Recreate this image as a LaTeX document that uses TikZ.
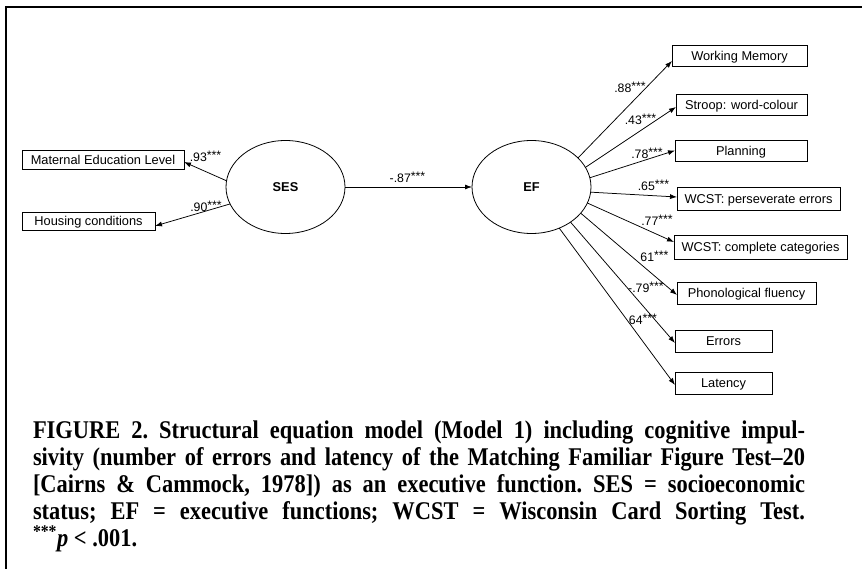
\documentclass[tikz,border=0pt]{standalone}
\usepackage{fontspec}
\setmainfont{Liberation Sans}
\newfontfamily\capfont[FakeStretch=0.88]{Liberation Serif}
\usetikzlibrary{shapes.geometric,arrows.meta}
\begin{document}
\begin{tikzpicture}[x=1pt,y=-1pt,
  every node/.style={inner sep=0pt, outer sep=0pt},
  obs/.style={draw, line width=0.8pt, rectangle, minimum height=21pt,
    text height=9.2pt, text depth=0pt,
    font=\fontsize{12.8}{15}\selectfont},
  latent/.style={draw, line width=0.8pt, ellipse, minimum width=119pt,
    minimum height=93pt, text height=9.2pt, text depth=0pt,
    font=\bfseries\fontsize{12.8}{15}\selectfont},
  coef/.style={font=\fontsize{12.3}{14}\selectfont},
  arr/.style={-{Latex[length=7pt,width=5pt]}, line width=0.75pt},
  caption/.style={anchor=north west, text width=772pt, align=justify,
    font=\capfont\bfseries\fontsize{25.5}{27}\selectfont}
]
\newcommand\sig{\raisebox{2pt}{***}}
\useasboundingbox (0,0) rectangle (862,569);

% frame
\draw[line width=2.6pt] (6,569) -- (6,7) -- (862,7);

% latent variables
\node[latent] (ses) at (285.5,187) {SES};
\node[latent] (ef) at (531.5,187) {EF};

% SES indicators
\node[obs, minimum width=162pt, minimum height=19pt] (mat) at (103,159.5) {Maternal Education Level};
\node[obs, minimum width=133pt, minimum height=18pt] (hou) at (88.5,221) {Housing conditions};

% EF indicators
\node[obs, minimum width=135pt] (wm) at (739.5,55.5) {Working Memory};
\node[obs, minimum width=131pt] (stroop) at (741.5,104.5) {Stroop: word-colour};
\node[obs, minimum width=132pt] (plan) at (741,150.5) {Planning};
\node[obs, minimum width=163pt, minimum height=23pt] (pers) at (758.5,198.5) {WCST: perseverate errors};
\node[obs, minimum width=173pt, minimum height=24pt] (comp) at (760.5,247) {WCST: complete categories};
\node[obs, minimum width=139pt, minimum height=22pt] (phon) at (746.5,293) {Phonological fluency};
\node[obs, minimum width=97pt, minimum height=22pt] (err) at (723.5,341) {Errors};
\node[obs, minimum width=97pt, minimum height=22pt] (lat) at (723.5,383) {Latency};

% paths
\draw[arr] (ses.174) -- ([yshift=-2.5pt]mat.east);
\draw[arr] (ses.197) -- ([yshift=-5pt]hou.east);
\draw[arr] (ses) -- (ef);
\draw[arr] (ef.32) -- ([yshift=-5.5pt]wm.west);
\draw[arr] (ef.20) -- ([yshift=-2.5pt]stroop.west);
\draw[arr] (ef.9.5) -- (plan.west);
\draw[arr] (ef.-5) -- ([yshift=1.5pt]pers.west);
\draw[arr] (ef.-16.5) -- ([yshift=5pt]comp.west);
\draw[arr] (ef.-28) -- ([yshift=-2pt]phon.west);
\draw[arr] (ef.-42) -- ([yshift=-2pt]err.west);
\draw[arr] (ef.-56) -- ([yshift=-2pt]lat.west);

% coefficients
\node[coef] (c93) at (205.5,156) {.93\sig};
\node[coef] (c90) at (206,206) {.90\sig};
\node[coef] (c87) at (407.5,177.5) {-.87\sig};
\node[coef] (c88) at (630,87) {.88\sig};
\node[coef] (c43) at (640.5,119) {.43\sig};
\node[coef] (c78) at (647,153) {.78\sig};
\node[coef] (c65) at (653.5,185) {.65\sig};
\node[coef] (c77) at (657,220) {.77\sig};
\node[coef] (c61) at (654.5,256) {61\sig};
\node[coef] (c79) at (646,287) {-.79\sig};
\node[coef] (c64) at (643,319) {64\sig};

% caption
\node[caption] (cap) at (33,421) {\frenchspacing\tolerance=10000\hyphenpenalty=10000
FIGURE 2. Structural equation model (Model 1) including cognitive impul-\linebreak
sivity (number of errors and latency of the Matching Familiar Figure Test–20\linebreak{}%
[Cairns \& Cammock, 1978]) as an executive function. SES = socioeconomic\linebreak
status; EF = executive functions; WCST = Wisconsin Card Sorting Test.\linebreak
\textsuperscript{***}\textit{p} < .001.};
\end{tikzpicture}
\end{document}
